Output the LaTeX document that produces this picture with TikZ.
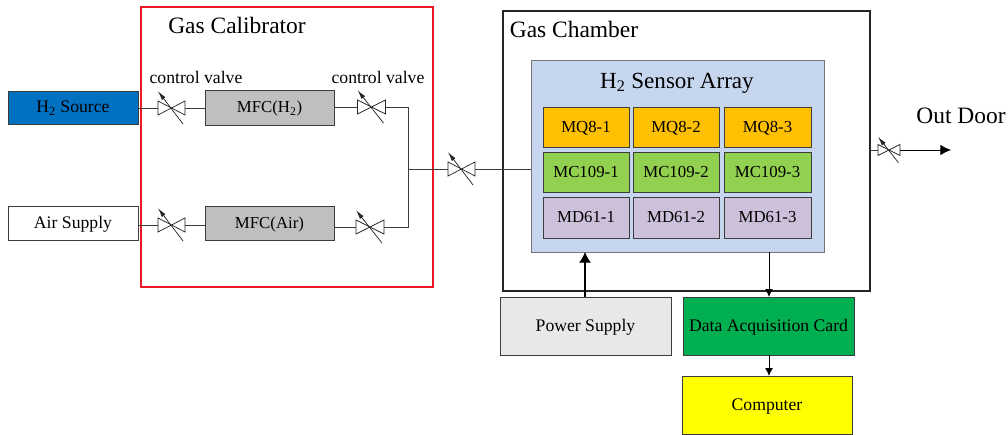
\documentclass[tikz,border=0pt]{standalone}
\usepackage{fontspec}
\setmainfont{Liberation Serif}
\usetikzlibrary{arrows.meta,calc}
\definecolor{hblue}{RGB}{0,112,192}
\definecolor{mfcgray}{RGB}{191,191,191}
\definecolor{arrayblue}{RGB}{197,214,238}
\definecolor{mqor}{RGB}{255,192,0}
\definecolor{mcgr}{RGB}{146,208,80}
\definecolor{mdpu}{RGB}{204,192,218}
\definecolor{psgray}{RGB}{232,232,232}
\definecolor{dacgr}{RGB}{0,176,80}
\definecolor{pureyellow}{RGB}{255,255,0}
\definecolor{lineg}{RGB}{60,60,60}
\definecolor{calibred}{RGB}{235,25,35}
\newcommand{\pxbox}[7][]{%
  \pgfmathsetmacro{\bcx}{(#3+#5)/2}\pgfmathsetmacro{\bcy}{(#4+#6)/2}%
  \pgfmathsetmacro{\bw}{(#5-#3)*0.75}\pgfmathsetmacro{\bh}{(#6-#4)*0.75}%
  \node[pbox,minimum width=\bw pt,minimum height=\bh pt,#1] (#2) at (\bcx,\bcy) {#7};}
\newcommand{\valve}[5]{%
  \pgfmathsetmacro{\bw}{#4*0.75}\pgfmathsetmacro{\bh}{#5*0.75}%
  \node[valvebox,minimum width=\bw pt,minimum height=\bh pt] (#1) at (#2,#3) {};
  \draw[valveline] (#1.north west) -- (#1.south east) -- (#1.north east) -- (#1.south west) -- cycle;
  \draw[slant] ($(#1.center)+(-0.5*#4,-1.2*#5)$) -- ($(#1.center)+(0.43*#4,1.15*#5)$);}
\tikzset{
  pbox/.style={draw=lineg,line width=0.7pt,inner sep=0pt,outer sep=0pt,font=\fontsize{13.25}{15}\selectfont,align=center,text height=9.5pt,text depth=1.7pt},
  cellbox/.style={font=\fontsize{12.6}{15}\selectfont},
  valvebox/.style={inner sep=0pt,outer sep=0pt},
  valveline/.style={draw=black!85,line width=0.55pt},
  slant/.style={draw=black!85,line width=0.55pt,{Latex[length=7pt,width=3.4pt]}-},
  pipe/.style={draw=lineg,line width=0.7pt},
  flow/.style={draw=black,line width=0.7pt,-{Latex[length=6pt,width=6pt]}},
  flowbig/.style={draw=black,line width=0.8pt,-{Latex[length=8pt,width=9pt]}},
  flowend/.style={draw=black,line width=0.7pt,-{Latex[length=8pt,width=8pt]}},
  lab/.style={inner sep=0pt},
  title/.style={lab,font=\fontsize{17.6}{20}\selectfont},
  vlab/.style={lab,font=\fontsize{13.25}{15}\selectfont},
  calibframe/.style={draw=calibred,line width=1pt},
}
\begin{document}
\begin{tikzpicture}[x=0.75pt,y=-0.75pt]
\useasboundingbox (0,0) rectangle (1008,435);
% enclosures
\pxbox[calibframe]{calib}{141}{7}{433}{287}{}
\pxbox[draw=black!85,line width=0.8pt]{chamber}{503}{11}{870}{291}{}
\pxbox[fill=arrayblue,draw=lineg!70]{array}{531}{60}{824}{252}{}
% titles
\node[title] (tcal) at (237,25) {Gas Calibrator};
\node[title] (tcham) at (574,29) {Gas Chamber};
\node[title,font=\fontsize{17.3}{20}\selectfont] (tarr) at (677,83) {H\textsubscript{2} Sensor Array};
\node[title] (tout) at (961,116) {Out Door};
\node[vlab] (cv1) at (196,77) {control valve};
\node[vlab] (cv2) at (378,77) {control valve};
% source boxes
\pxbox[fill=hblue]{h2}{8}{91}{138}{124}{H\textsubscript{2} Source}
\pxbox[fill=white]{air}{8}{206}{138}{240}{Air Supply}
\pxbox[fill=mfcgray,cellbox]{mfch}{205}{90}{334}{125}{MFC(H\textsubscript{2})}
\pxbox[fill=mfcgray,cellbox]{mfca}{205}{206}{334}{240}{MFC(Air)}
% sensors
\pxbox[fill=mqor,cellbox]{q1}{543}{107}{629}{147}{MQ8-1}
\pxbox[fill=mqor,cellbox]{q2}{633}{107}{719}{147}{MQ8-2}
\pxbox[fill=mqor,cellbox]{q3}{724}{107}{811}{147}{MQ8-3}
\pxbox[fill=mcgr,cellbox]{c1}{543}{152}{629}{192}{MC109-1}
\pxbox[fill=mcgr,cellbox]{c2}{633}{152}{719}{192}{MC109-2}
\pxbox[fill=mcgr,cellbox]{c3}{724}{152}{811}{192}{MC109-3}
\pxbox[fill=mdpu,cellbox]{d1}{543}{197}{629}{238}{MD61-1}
\pxbox[fill=mdpu,cellbox]{d2}{633}{197}{719}{238}{MD61-2}
\pxbox[fill=mdpu,cellbox]{d3}{724}{197}{811}{238}{MD61-3}
% lower boxes
\pxbox[fill=psgray]{ps}{500}{297}{671}{355}{Power Supply}
\pxbox[fill=dacgr]{dac}{683}{297}{854}{355}{Data Acquisition Card}
\pxbox[fill=pureyellow]{comp}{682}{376}{852}{434}{Computer}
% valves
\valve{v1}{171.5}{108}{27}{14}
\valve{v2}{171.5}{225}{27}{14}
\valve{v3}{371.5}{107}{28}{14}
\valve{v4}{370}{227}{28}{14}
\valve{v5}{461.5}{169}{27}{14}
\valve{v6}{889}{150}{22}{11}
% connectors
\coordinate (jn) at (408,169);
\coordinate (outend) at (951,150);
\draw[pipe] (h2.east |- v1) -- (v1.west);
\draw[pipe] (v1.east) -- (mfch.west |- v1);
\draw[pipe] (air.east |- v2) -- (v2.west);
\draw[pipe] (v2.east) -- (mfca.west |- v2);
\draw[pipe] (mfch.east |- v3) -- (v3.west);
\draw[pipe] (mfca.east |- v4) -- (v4.west);
\draw[pipe] (v3.east) -- (jn |- v3) -- (jn);
\draw[pipe] (v4.east) -- (jn |- v4) -- (jn);
\draw[pipe] (jn) -- (v5.west);
\draw[pipe] (v5.east) -- (array.west |- v5);
\draw[pipe] (chamber.east |- v6) -- (v6.west);
\draw[flowend] (v6.east) -- (outend);
\draw[flowbig] (ps.north -| 585,0) -- (array.south -| 585,0);
\draw[flow] (array.south -| 769,0) -- (dac.north -| 769,0);
\draw[flow] (dac.south -| 769,0) -- (comp.north -| 769,0);
\end{tikzpicture}
\end{document}
